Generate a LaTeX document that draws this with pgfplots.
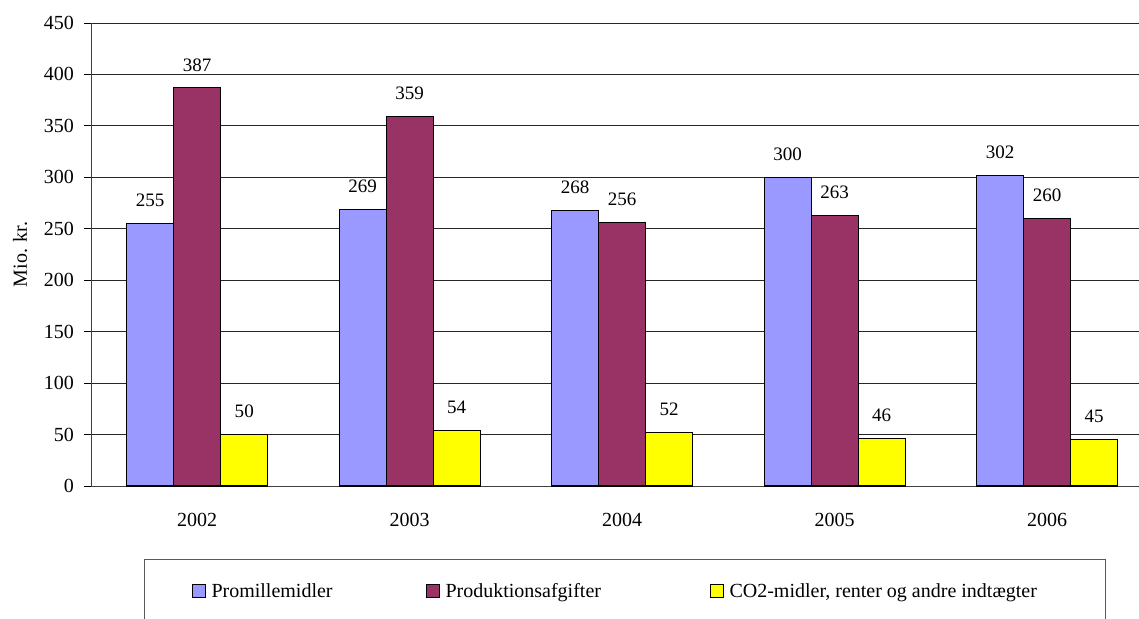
\documentclass[border=0pt]{standalone}
\usepackage{fontspec}
\setmainfont{Liberation Serif}
\usepackage{pgfplots}
\pgfplotsset{compat=1.18}
\definecolor{cBlue}{HTML}{9999FF}
\definecolor{cPurple}{HTML}{993366}
\definecolor{cYellow}{HTML}{FFFF00}
\newcommand{\fs}{\fontsize{20}{24}\selectfont}
\newcommand{\fl}{\fontsize{19}{23}\selectfont}
\begin{document}
\begin{tikzpicture}
\path[use as bounding box] (0,0) rectangle (1139pt,618pt);
\begin{axis}[
  at={(91pt,132pt)}, anchor=south west,
  scale only axis, width=1062.5pt, height=463pt,
  xmin=-0.5, xmax=4.5, ymin=0, ymax=450,
  enlargelimits=false,
  /pgf/number format/assume math mode=true,
  ybar=0pt, bar width=47pt,
  axis x line*=bottom, axis y line*=left,
  axis line style={black!75, line width=1pt},
  xtick={0,1,2,3,4},
  xticklabels={2002,2003,2004,2005,2006},
  minor xtick={-0.5,0.5,1.5,2.5,3.5,4.5},
  xtick style={draw=none},
  minor tick length=7pt,
  major tick length=7pt,
  tick align=outside,
  every tick/.style={black, line width=0.9pt},
  minor x tick style={black, line width=0.9pt},
  ytick={0,50,...,450},
  ymajorgrids,
  major grid style={black!85, line width=0.9pt},
  tick label style={font=\fs},
  xticklabel style={anchor=center, yshift=-27pt},
  yticklabel style={anchor=east, inner xsep=0pt, xshift=-10pt},
  ylabel={Mio. kr.},
  ylabel style={font=\fs, at={(axis description cs:-0.0668,0.5)}, anchor=center, rotate=0},
  nodes near coords,
  nodes near coords style={font=\fl, anchor=center, yshift=23pt, black},
  every axis plot/.append style={draw=black, line width=1.1pt},
  legend columns=3,
  legend cell align=left,
  legend image code/.code={\draw[#1,draw=black,line width=1pt] (0pt,-6.5pt) rectangle (13pt,6.5pt);},
  legend style={font=\fs, at={(axis description cs:0.0499,-0.1577)}, anchor=north west,
    draw=black!65, line width=1pt, inner xsep=47pt, inner ysep=22pt,
    /tikz/every even column/.append style={column sep=0pt},
    nodes={inner xsep=6pt}},
]
\addplot[fill=cBlue] coordinates {(0,255) (1,269) (2,268) (3,300) (4,302)};
\addplot[fill=cPurple] coordinates {(0,387) (1,359) (2,256) (3,263) (4,260)};
\addplot[fill=cYellow] coordinates {(0,50) (1,54) (2,52) (3,46) (4,45)};
\legend{\makebox[208pt][l]{Promillemidler},\makebox[258pt][l]{Produktionsafgifter},{\makebox[323pt][l]{CO2-midler, renter og andre indtægter}}}
\end{axis}
\end{tikzpicture}
\end{document}
